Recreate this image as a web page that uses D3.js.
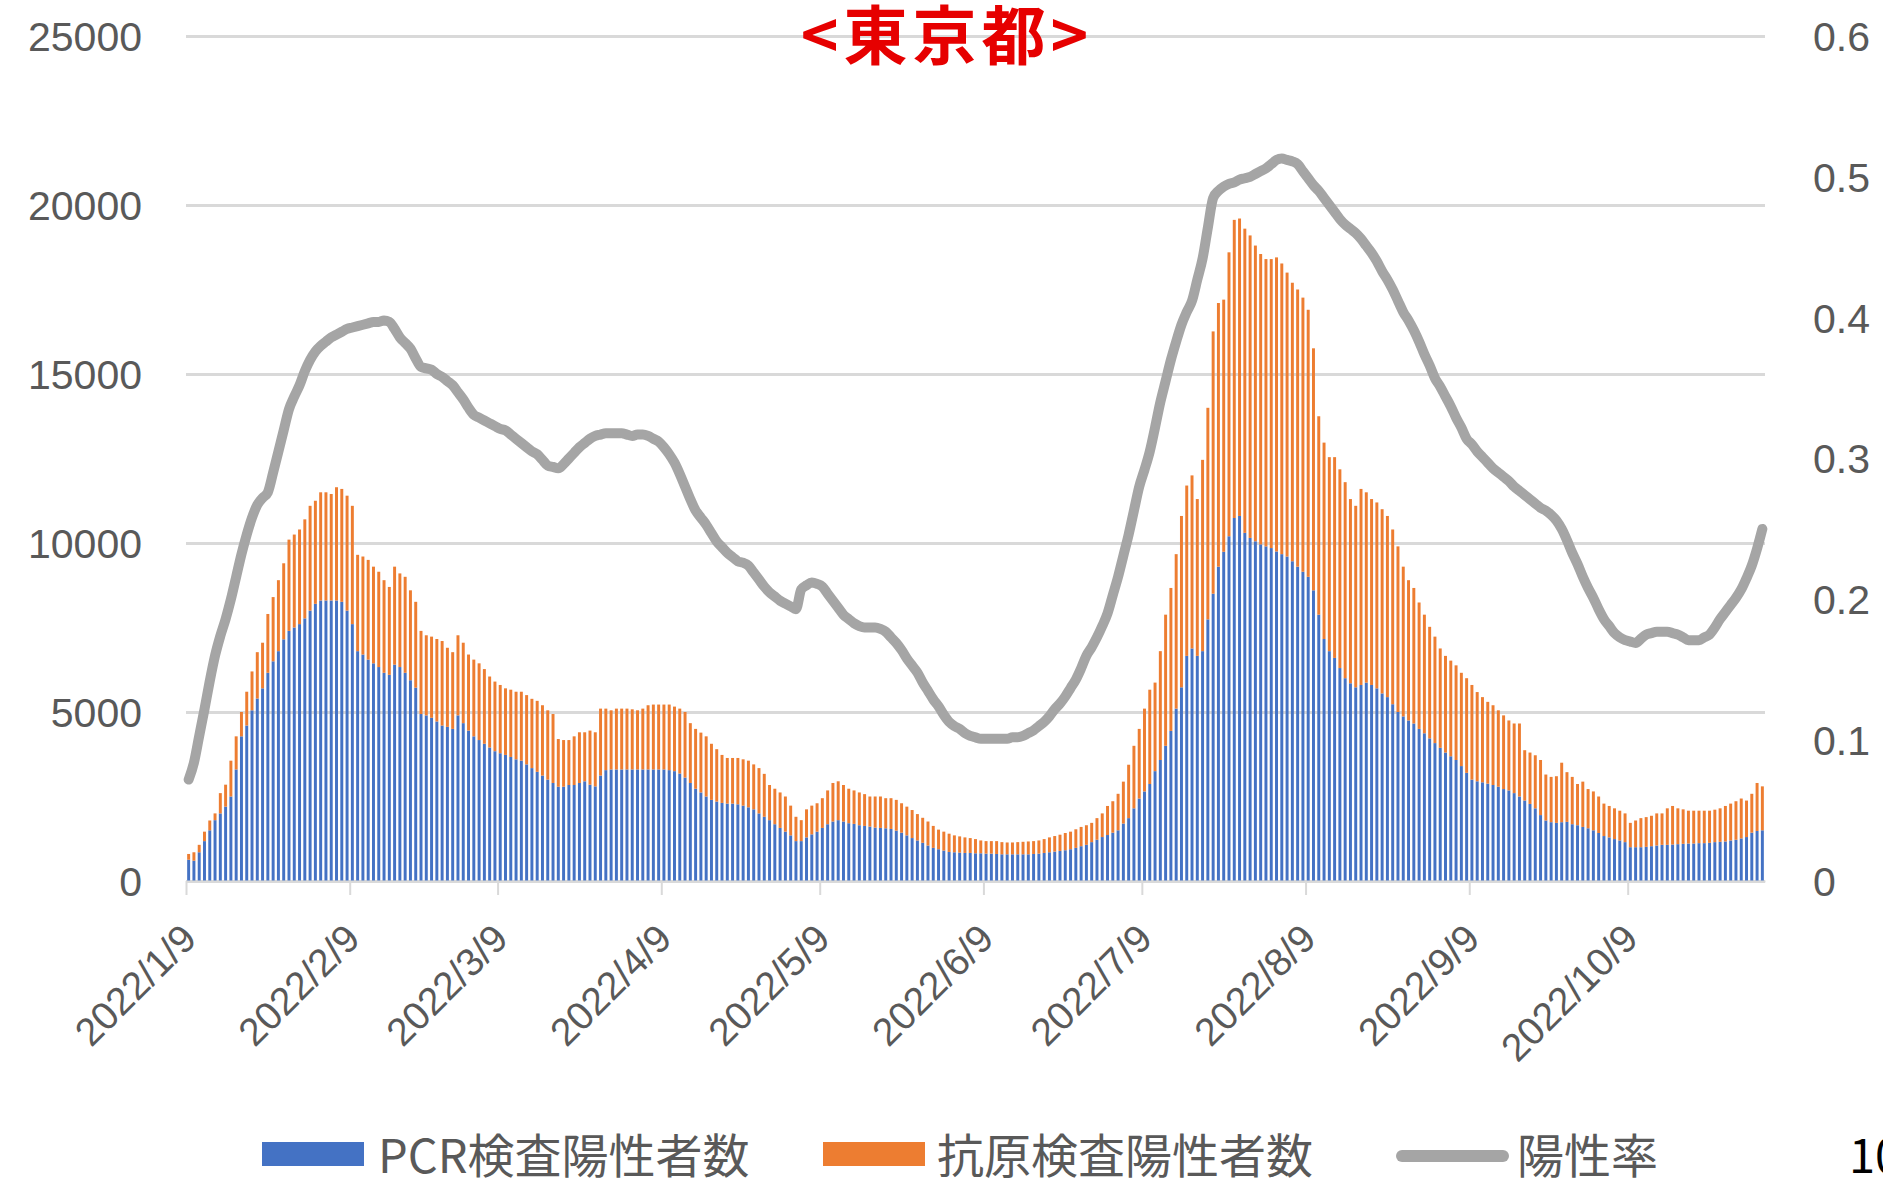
<!DOCTYPE html>
<html>
<head>
<meta charset="utf-8">
<script src="https://cdn.jsdelivr.net/npm/d3@7"></script>
<style>
  body { margin: 0; background: #fff; }
  svg { display: block; }
</style>
</head>
<body>
<div id="chart"></div>
<script>
// ---- data (daily, starting 2022/1/9) ----
const startDay = '2022-01-09';
const chartTitle = '<東京都>';
const seriesNames = ['PCR検査陽性者数', '抗原検査陽性者数', '陽性率'];
const tickDates = ['2022-01-09', '2022-02-09', '2022-03-09', '2022-04-09', '2022-05-09',
  '2022-06-09', '2022-07-09', '2022-08-09', '2022-09-09', '2022-10-09'];
const tickLabels = ['2022/1/9', '2022/2/9', '2022/3/9', '2022/4/9', '2022/5/9',
  '2022/6/9', '2022/7/9', '2022/8/9', '2022/9/9', '2022/10/9'];
const leftTicks = [0, 5000, 10000, 15000, 20000, 25000];
const rightTicks = [0, 0.1, 0.2, 0.3, 0.4, 0.5, 0.6];
const rightTickLabels = ['0', '0.1', '0.2', '0.3', '0.4', '0.5', '0.6'];

const pcrPositive = [
  630, 600, 850, 1180, 1500, 1800, 2000, 2200, 2500, 3300,
  4280, 4600, 5050, 5400, 5700, 6160, 6500, 6800, 7150, 7400,
  7500, 7600, 7770, 8000, 8200, 8300, 8300, 8300, 8300, 8260,
  8000, 7600, 6800, 6700, 6550, 6440, 6330, 6160, 6100, 6400,
  6330, 6160, 5940, 5720, 4940, 4900, 4830, 4720, 4600, 4560,
  4500, 4900, 4670, 4450, 4280, 4170, 4060, 3950, 3840, 3780,
  3730, 3670, 3600, 3560, 3450, 3340, 3230, 3120, 3000, 2900,
  2790, 2790, 2840, 2840, 2900, 2950, 2850, 2800, 3120, 3280,
  3300, 3300, 3300, 3300, 3300, 3300, 3300, 3300, 3300, 3300,
  3300, 3280, 3250, 3180, 3060, 2900, 2730, 2620, 2500, 2400,
  2350, 2310, 2290, 2290, 2270, 2230, 2180, 2120, 2000, 1900,
  1800, 1680, 1570, 1460, 1350, 1180, 1180, 1290, 1380, 1460,
  1570, 1680, 1760, 1800, 1760, 1710, 1690, 1650, 1630, 1610,
  1580, 1570, 1560, 1540, 1490, 1430, 1350, 1270, 1200, 1130,
  1050, 980, 940, 900, 860, 850, 840, 830, 830, 820,
  820, 810, 810, 800, 790, 790, 790, 790, 790, 790,
  800, 810, 830, 850, 870, 890, 910, 940, 980, 1030,
  1070, 1150, 1220, 1300, 1360, 1430, 1500, 1700, 1860, 2150,
  2440, 2650, 2870, 3250, 3580, 4000, 4440, 5100, 5730, 6660,
  6880, 6660, 6800, 7740, 8500, 9300, 9740, 10200, 10740, 10800,
  10300, 10150, 10050, 9960, 9900, 9850, 9750, 9670, 9600, 9460,
  9300, 9150, 9000, 8600, 7880, 7160, 6800, 6600, 6300, 6000,
  5850, 5730, 5800, 5870, 5800, 5700, 5550, 5440, 5230, 5000,
  4870, 4750, 4660, 4500, 4370, 4220, 4080, 3940, 3800, 3690,
  3580, 3400, 3200, 3000, 2950, 2920, 2880, 2840, 2790, 2720,
  2680, 2600, 2500, 2380, 2280, 2150, 1950, 1790, 1740, 1720,
  1740, 1750, 1680, 1650, 1600, 1560, 1500, 1420, 1330, 1290,
  1240, 1200, 1150, 1000, 1000, 1000, 1010, 1030, 1050, 1070,
  1070, 1080, 1090, 1100, 1110, 1110, 1120, 1120, 1130, 1150,
  1160, 1170, 1200, 1220, 1260, 1300, 1430, 1480, 1500
];

const antigenPositive = [
  170, 250, 220, 280, 290, 200, 600, 650, 1060, 980,
  720, 1000, 1150, 1370, 1350, 1740, 1900, 2100, 2250, 2700,
  2750, 2800, 2930, 3100, 3050, 3200, 3200, 3150, 3350, 3340,
  3400, 3500, 2850, 2900, 2950, 2860, 2820, 2740, 2600, 2900,
  2770, 2840, 2660, 2540, 2460, 2370, 2400, 2440, 2500, 2340,
  2270, 2370, 2380, 2250, 2270, 2270, 2210, 2100, 2060, 2020,
  1970, 1990, 2000, 2040, 2050, 2050, 2100, 2080, 2050, 2040,
  1410, 1380, 1330, 1440, 1500, 1450, 1600, 1600, 1980, 1820,
  1750, 1800, 1800, 1800, 1780, 1750, 1800, 1900, 1920, 1920,
  1920, 1940, 1910, 1920, 1940, 1770, 1770, 1770, 1780, 1660,
  1550, 1420, 1350, 1350, 1370, 1370, 1380, 1330, 1340, 1270,
  1040, 1050, 1050, 1040, 880, 720, 620, 830, 850, 840,
  880, 1000, 1140, 1150, 1080, 1020, 990, 970, 940, 890,
  920, 930, 890, 910, 910, 870, 850, 830, 780, 740,
  710, 650, 580, 560, 540, 500, 480, 460, 440, 420,
  380, 370, 370, 380, 360, 350, 350, 360, 370, 380,
  380, 390, 410, 440, 460, 480, 510, 520, 550, 570,
  580, 570, 640, 700, 860, 930, 1080, 1240, 1580, 1850,
  2060, 2450, 2790, 2620, 3220, 3880, 4230, 4570, 5070, 5040,
  5120, 4640, 5660, 6260, 7760, 7800, 7460, 8400, 8820, 8800,
  9000, 8950, 8750, 8590, 8500, 8550, 8700, 8600, 8400, 8240,
  8200, 8110, 7900, 7160, 5870, 5810, 5740, 5940, 5880, 5800,
  5450, 5370, 5800, 5630, 5500, 5500, 5450, 5360, 5170, 4900,
  4430, 4150, 4010, 3740, 3510, 3300, 3150, 2940, 2860, 2830,
  2800, 2760, 2800, 2800, 2640, 2520, 2420, 2360, 2260, 2180,
  2070, 2060, 2160, 1490, 1520, 1570, 1630, 1360, 1340, 1380,
  1760, 1470, 1400, 1220, 1340, 1160, 1150, 1080, 960, 930,
  910, 880, 850, 720, 790, 860, 880, 900, 950, 930,
  1080, 1140, 1060, 1020, 970, 970, 960, 960, 950, 960,
  990, 1050, 1090, 1140, 1180, 1080, 1150, 1420, 1300
];

const positiveRate = [
  .072, .084, .103, .122, .142, .160, .174, .186, .200, .216,
  .232, .246, .258, .267, .272, .276, .290, .305, .320, .335,
  .344, .352, .362, .370, .376, .380, .383, .386, .388, .390,
  .392, .393, .394, .395, .396, .397, .397, .398, .397, .392,
  .386, .382, .378, .371, .365, .364, .363, .360, .358, .355,
  .352, .347, .342, .336, .331, .329, .327, .325, .323, .321,
  .320, .317, .314, .311, .308, .305, .303, .299, .295, .294,
  .293, .296, .300, .304, .308, .311, .314, .316, .317, .318,
  .318, .318, .318, .317, .316, .317, .317, .316, .314, .312,
  .308, .303, .297, .289, .280, .271, .263, .258, .253, .247,
  .241, .237, .233, .230, .227, .226, .224, .219, .214, .209,
  .205, .202, .199, .197, .195, .193, .207, .210, .212, .211,
  .209, .204, .199, .194, .189, .186, .183, .181, .180, .180,
  .180, .179, .177, .173, .169, .164, .158, .153, .148, .141,
  .135, .129, .124, .118, .113, .110, .108, .105, .103, .102,
  .101, .101, .101, .101, .101, .101, .102, .102, .103, .105,
  .107, .110, .113, .117, .122, .126, .131, .137, .143, .151,
  .160, .166, .173, .181, .190, .203, .216, .231, .246, .263,
  .280, .292, .305, .322, .340, .355, .370, .383, .395, .404,
  .412, .427, .442, .464, .485, .490, .493, .495, .496, .498,
  .499, .500, .502, .504, .506, .509, .512, .513, .512, .511,
  .509, .504, .499, .494, .490, .485, .480, .475, .470, .466,
  .463, .460, .456, .451, .446, .440, .433, .427, .420, .412,
  .404, .398, .391, .383, .374, .366, .357, .351, .344, .337,
  .329, .322, .314, .310, .305, .301, .297, .293, .290, .287,
  .284, .280, .277, .274, .271, .268, .265, .263, .260, .256,
  .250, .242, .233, .225, .216, .208, .201, .193, .186, .181,
  .176, .173, .171, .170, .169, .172, .175, .176, .177, .177,
  .177, .176, .175, .173, .171, .171, .171, .173, .175, .180,
  .186, .191, .196, .201, .207, .215, .224, .236, .250
];

// ---- layout ----
const width = 1883;
const height = 1189;
const plot = { left: 186, right: 1765, top: 36, bottom: 881 };
const colors = { pcr: '#4472c4', antigen: '#ed7d31', rate: '#a5a5a5', grid: '#d9d9d9', text: '#595959' };
const font = '"Noto Sans CJK JP", "Noto Sans", sans-serif';

const parseDay = d3.utcParse('%Y-%m-%d');
const start = parseDay(startDay);
const rows = pcrPositive.map((v, i) => ({
  date: d3.utcDay.offset(start, i),
  pcr: v,
  antigen: antigenPositive[i],
  rate: positiveRate[i]
}));

const x = d3.scaleUtc()
  .domain([start, d3.utcDay.offset(start, rows.length)])
  .range([plot.left, plot.right]);
const yLeft = d3.scaleLinear().domain([0, 25000]).range([plot.bottom, plot.top]);
const yRight = d3.scaleLinear().domain([0, 0.6]).range([plot.bottom, plot.top]);
const dayW = x(d3.utcDay.offset(start, 1)) - x(start);
const barW = dayW * 0.56;

const svg = d3.select('#chart').append('svg')
  .attr('width', width)
  .attr('height', height)
  .style('font-family', font);

svg.append('rect').attr('width', width).attr('height', height).attr('fill', '#fff');

// left axis + gridlines
const leftAxis = svg.append('g')
  .attr('transform', `translate(${plot.left},0)`)
  .call(d3.axisLeft(yLeft)
    .tickValues(leftTicks)
    .tickSizeInner(-(plot.right - plot.left))
    .tickSizeOuter(0)
    .tickPadding(44)
    .tickFormat(d3.format('d')));
leftAxis.select('.domain').remove();
leftAxis.selectAll('line').attr('stroke', colors.grid).attr('stroke-width', 3);
leftAxis.selectAll('text')
  .attr('fill', colors.text)
  .attr('font-size', '41px')
  .attr('dy', '0.35em');

// right axis (labels only)
const rightAxis = svg.append('g')
  .attr('transform', `translate(${plot.right},0)`)
  .call(d3.axisRight(yRight)
    .tickValues(rightTicks)
    .tickSize(0)
    .tickPadding(48)
    .tickFormat((d, i) => rightTickLabels[i]));
rightAxis.select('.domain').remove();
rightAxis.selectAll('text')
  .attr('fill', colors.text)
  .attr('font-size', '41px')
  .attr('dy', '0.35em');

// stacked bars
const stacked = d3.stack().keys(['pcr', 'antigen'])(rows);
svg.append('g')
  .selectAll('g')
  .data(stacked)
  .join('g')
  .attr('fill', d => colors[d.key])
  .selectAll('rect')
  .data(d => d)
  .join('rect')
  .attr('x', d => x(d.data.date) + (dayW - barW) / 2)
  .attr('width', barW)
  .attr('y', d => yLeft(d[1]))
  .attr('height', d => yLeft(d[0]) - yLeft(d[1]));

// x axis
const xAxis = svg.append('g')
  .attr('transform', `translate(0,${plot.bottom})`)
  .call(d3.axisBottom(x)
    .tickValues(tickDates.map(parseDay))
    .tickSizeInner(14)
    .tickSizeOuter(0)
    .tickFormat((d, i) => tickLabels[i]));
xAxis.select('.domain').attr('stroke', colors.grid).attr('stroke-width', 2);
xAxis.selectAll('line').attr('stroke', colors.grid).attr('stroke-width', 2);
xAxis.selectAll('text')
  .attr('x', 0)
  .attr('y', 0)
  .attr('dy', 0)
  .attr('text-anchor', 'end')
  .attr('transform', 'translate(12,60) rotate(-45)')
  .attr('fill', colors.text)
  .attr('font-size', '39px');

// positive rate line
const line = d3.line()
  .x(d => x(d.date) + dayW / 2)
  .y(d => yRight(d.rate))
  .curve(d3.curveMonotoneX);
svg.append('path')
  .datum(rows)
  .attr('d', line)
  .attr('fill', 'none')
  .attr('stroke', colors.rate)
  .attr('stroke-width', 10)
  .attr('stroke-linejoin', 'round')
  .attr('stroke-linecap', 'round');

// title (sits on the top edge, like the source slide)
svg.append('text')
  .attr('x', 947)
  .attr('y', 31)
  .attr('text-anchor', 'middle')
  .attr('dominant-baseline', 'central')
  .attr('fill', '#e60000')
  .attr('font-weight', 'bold')
  .attr('font-size', '64px')
  .attr('letter-spacing', '5px')
  .text(chartTitle);

// legend
const legend = svg.append('g').attr('font-size', '47px').attr('fill', colors.text);
legend.append('rect').attr('x', 262).attr('y', 1142).attr('width', 102).attr('height', 24).attr('fill', colors.pcr);
legend.append('text').attr('x', 378).attr('y', 1152).attr('dominant-baseline', 'central').text(seriesNames[0]);
legend.append('rect').attr('x', 823).attr('y', 1142).attr('width', 102).attr('height', 24).attr('fill', colors.antigen);
legend.append('text').attr('x', 937).attr('y', 1152).attr('dominant-baseline', 'central').text(seriesNames[1]);
legend.append('line')
  .attr('x1', 1402).attr('x2', 1503).attr('y1', 1156).attr('y2', 1156)
  .attr('stroke', colors.rate).attr('stroke-width', 12).attr('stroke-linecap', 'round');
legend.append('text').attr('x', 1517).attr('y', 1152).attr('dominant-baseline', 'central').text(seriesNames[2]);

// page number, cut off at the right edge as in the source slide
svg.append('text')
  .attr('x', 1849)
  .attr('y', 1152)
  .attr('dominant-baseline', 'central')
  .attr('font-size', '47px')
  .attr('fill', '#000')
  .text('10');
</script>
</body>
</html>
